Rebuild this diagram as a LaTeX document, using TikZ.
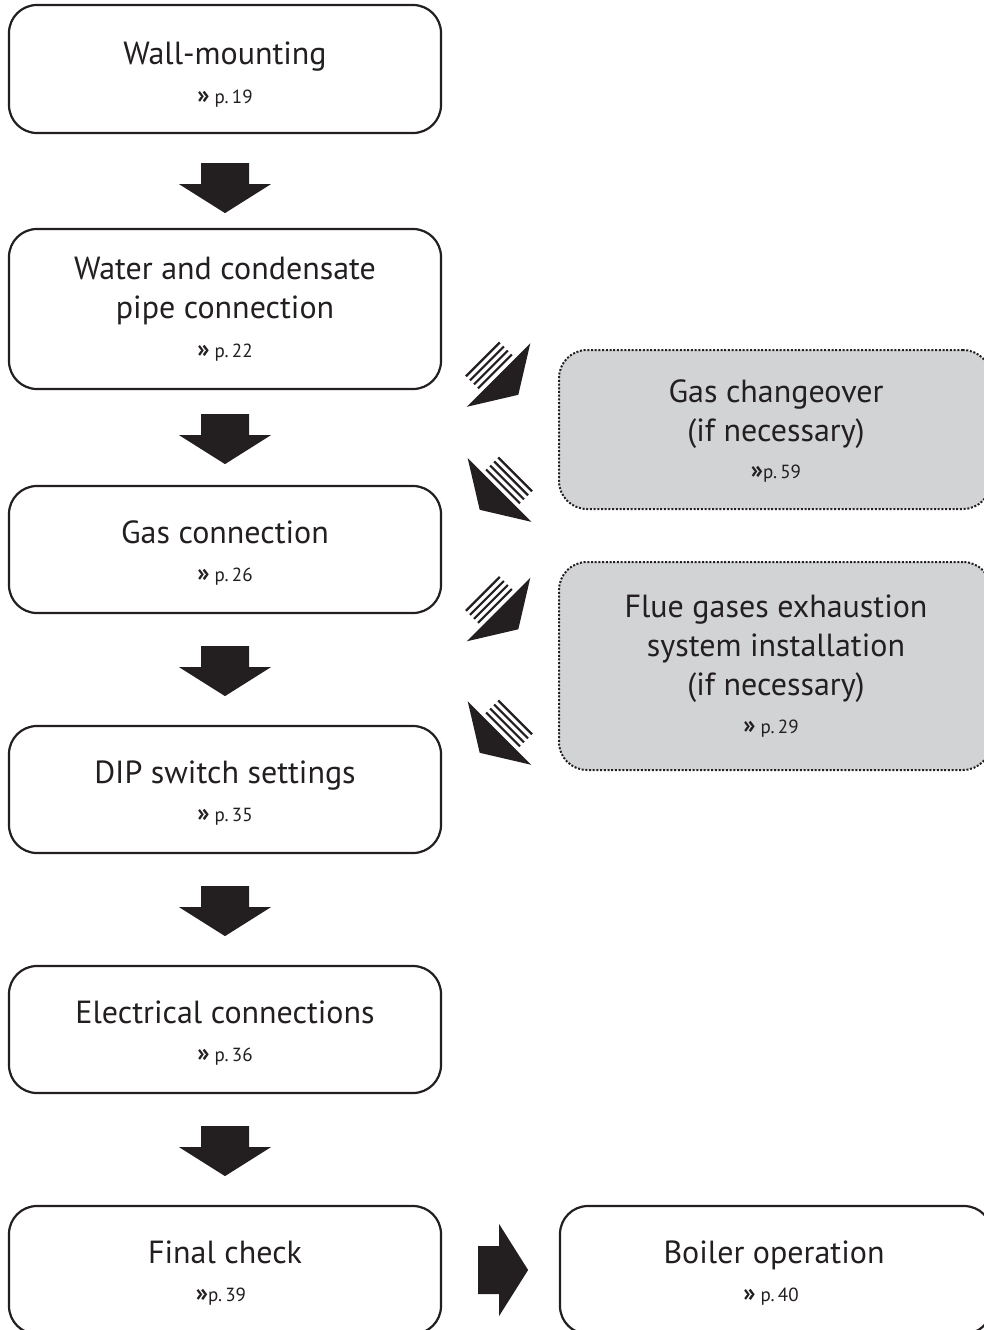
\documentclass[tikz,border=0pt]{standalone}
\usepackage{fontspec}
\setmainfont{PT Sans}
\usetikzlibrary{calc}
\definecolor{ink}{HTML}{231F20}
\definecolor{grayfill}{HTML}{D1D3D4}
\tikzset{
  stepbox/.style={draw=ink, line width=2.2pt, rounded corners=28pt, fill=white,
    minimum width=432pt, inner sep=0pt},
  optbox/.style={draw=ink, line width=2pt, dash pattern=on 2pt off 1.7pt,
    rounded corners=28pt, fill=grayfill, minimum width=432pt, inner sep=0pt},
  title/.style={anchor=base, font=\fontsize{32}{38}\selectfont, text=ink, inner sep=0pt},
  pagetxt/.style={anchor=base, font=\fontsize{19}{23}\selectfont, text=ink, inner sep=0pt},
  blockarrow/.style={fill=ink, draw=none},
  stripe/.style={draw=ink, line width=2.2pt},
}
\newcommand{\guil}{{\fontsize{25}{25}\selectfont\bfseries »}}
\newcommand{\pgref}[1]{\guil\ p.\,#1}
\newcommand{\pgrefn}[1]{\guil p.\,#1}
\newcommand{\downarrowshape}{%
  \fill[blockarrow] (-24,0) -- (24,0) -- (24,21) -- (46,21) -- (0,50) -- (-46,21) -- (-24,21) -- cycle;}
\newcommand{\stripedarrow}{%
  \fill[blockarrow] (0,-45) -- (28,0) -- (0,45) -- cycle;
  \foreach \d in {-5,-10.7,-16.4,-22.1} {\draw[stripe] (\d,-24) -- (\d,24);}}
\begin{document}
\begin{tikzpicture}[x=1pt,y=-1pt]
\useasboundingbox (0,0) rectangle (984,1330);
\clip (0,0) rectangle (984,1330);

% main column boxes
\node[stepbox, minimum height=128pt] (b1) at (225,69) {};
\node[stepbox, minimum height=160pt] (b2) at (225,309) {};
\node[stepbox, minimum height=127pt] (b3) at (225,549.5) {};
\node[stepbox, minimum height=127pt] (b4) at (225,789.5) {};
\node[stepbox, minimum height=127pt] (b5) at (225,1029.5) {};
\node[stepbox, minimum height=128pt] (b6) at (225,1270) {};
\node[stepbox, minimum height=128pt] (b7) at (776,1270) {};

% optional boxes
\node[optbox, minimum height=159pt] (g1) at (775,429.5) {};
\node[optbox, minimum height=208pt] (g2) at (775,666) {};

% texts
\node[title] (t1) at (225,64) {Wall-mounting};
\node[pagetxt] (p1) at (225,103) {\pgref{19}};

\node[title] (t2a) at (225,279) {Water and condensate};
\node[title] (t2b) at (225,318) {pipe connection};
\node[pagetxt] (p2) at (225,357) {\pgref{22}};

\node[title] (t3) at (225,543) {Gas connection};
\node[pagetxt] (p3) at (225,581) {\pgref{26}};

\node[title] (t4) at (225,783) {DIP switch settings};
\node[pagetxt] (p4) at (225,821) {\pgref{35}};

\node[title] (t5) at (225,1023) {Electrical connections};
\node[pagetxt] (p5) at (225,1061) {\pgref{36}};

\node[title] (t6) at (225,1263) {Final check};
\node[pagetxt] (p6) at (221,1301) {\pgrefn{39}};

\node[title] (t7) at (774,1263) {Boiler operation};
\node[pagetxt] (p7) at (771,1301) {\pgref{40}};

\node[title] (tg1a) at (776,402) {Gas changeover};
\node[title] (tg1b) at (776,441) {(if necessary)};
\node[pagetxt] (pg1) at (776,478) {\pgrefn{59}};

\node[title] (tg2a) at (776,617) {Flue gases exhaustion};
\node[title] (tg2b) at (776,656) {system installation};
\node[title] (tg2c) at (776,695) {(if necessary)};
\node[pagetxt] (pg2) at (771,733) {\pgref{29}};

% down block arrows
\begin{scope}[shift={($(b1.south)+(0,29)$)}]\downarrowshape\end{scope}
\begin{scope}[shift={($(b2.south)+(0,24)$)}]\downarrowshape\end{scope}
\begin{scope}[shift={($(b3.south)+(0,32)$)}]\downarrowshape\end{scope}
\begin{scope}[shift={($(b4.south)+(0,32)$)}]\downarrowshape\end{scope}
\begin{scope}[shift={($(b5.south)+(0,32)$)}]\downarrowshape\end{scope}

% right block arrow
\begin{scope}[shift={($(b6.east)+(36,0)$)}, rotate=90]\downarrowshape\end{scope}

% striped diagonal arrows
\begin{scope}[shift={(498.5,375)}, rotate=-45]\stripedarrow\end{scope}
\begin{scope}[shift={(499.5,490)}, rotate=-135]\stripedarrow\end{scope}
\begin{scope}[shift={(498.5,609.5)}, rotate=-45]\stripedarrow\end{scope}
\begin{scope}[shift={(499.5,733)}, rotate=-135]\stripedarrow\end{scope}
\end{tikzpicture}
\end{document}
